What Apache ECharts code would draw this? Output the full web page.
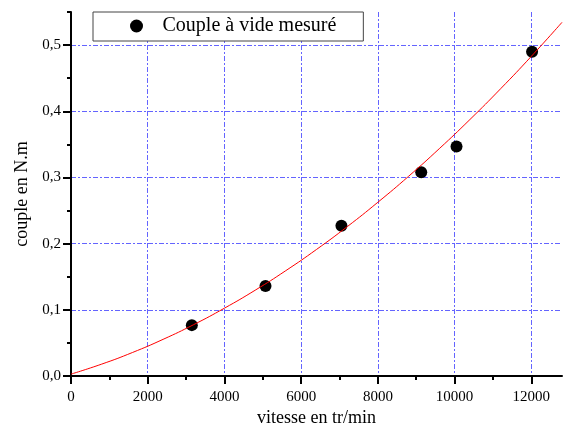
<!DOCTYPE html>
<html>
<head>
<meta charset="utf-8">
<script src="https://cdn.jsdelivr.net/npm/echarts@6/dist/echarts.min.js"></script>
<style>html,body{margin:0;padding:0;background:#fff}#c{width:563px;height:432px}</style>
</head>
<body>
<div id="c"></div>
<script>
// Measured points
const speedMeasured = [3150, 5070, 7050, 9130, 10050, 12020];
const torqueMeasured = [0.077, 0.136, 0.227, 0.308, 0.347, 0.490];
// Fitted curve
const fitSpeed = [0, 800, 1600, 2400, 3200, 4000, 4800, 5600, 6400, 7200, 8000, 8800, 9600, 10400, 11200, 12000, 12800];
const fitTorque = [0.003, 0.0181, 0.0356, 0.0555, 0.0778, 0.1026, 0.1297, 0.1593, 0.1913, 0.2257, 0.2626, 0.3018, 0.3435, 0.3876, 0.4341, 0.483, 0.5344];
// Ticks
const xMajorTicks = [0, 2000, 4000, 6000, 8000, 10000, 12000];
const xMinorTicks = [1000, 3000, 5000, 7000, 9000, 11000];
const yMajorTicks = [0, 0.1, 0.2, 0.3, 0.4, 0.5];
const yMinorTicks = [0.05, 0.15, 0.25, 0.35, 0.45, 0.55];
const legendName = 'Couple à vide mesuré';
const xName = 'vitesse en tr/min';
const yName = 'couple en N.m';

const FONT = "'Liberation Serif', 'Times New Roman', serif";
const chart = echarts.init(document.getElementById('c'), null, {renderer: 'canvas'});

function tickAxis(pos, vals, len, max) {
  return {
    type: 'value', min: 0, max: max, position: pos,
    axisLine: {show: false, onZero: false},
    axisLabel: {show: false},
    splitLine: {show: false},
    axisTick: {show: true, length: len, inside: false, customValues: vals,
      lineStyle: {color: '#000', width: 2}}
  };
}

const gridLine = {show: true, showMinLine: false, showMaxLine: false,
  lineStyle: {color: '#6464ff', width: 1, type: [5, 2, 2, 2]}};

chart.setOption({
  animation: false,
  backgroundColor: '#fff',
  grid: {left: 71, right: 1, top: 12, bottom: 54, containLabel: false},
  legend: {
    data: [legendName],
    left: 93, top: 12,
    orient: 'horizontal',
    icon: 'circle',
    itemWidth: 42, itemHeight: 13,
    padding: [4, 27, 5, 37],
    backgroundColor: '#fff',
    borderColor: '#444', borderWidth: 1, borderRadius: 0,
    textStyle: {fontFamily: FONT, fontSize: 20, color: '#000'}
  },
  xAxis: [
    {
      type: 'value', min: 0, max: 12800, interval: 2000, position: 'bottom',
      name: xName, nameLocation: 'middle', nameGap: 30,
      nameTextStyle: {fontFamily: FONT, fontSize: 18, color: '#000'},
      axisLine: {show: true, onZero: false, lineStyle: {color: '#000', width: 2}},
      axisTick: {show: false},
      axisLabel: {show: true, margin: 13, showMaxLabel: false, fontFamily: FONT, fontSize: 15, color: '#000',
        formatter: v => (v === 12800 ? '' : String(v))},
      splitLine: gridLine
    },
    tickAxis('bottom', xMajorTicks, 8, 12800),
    tickAxis('bottom', xMinorTicks, 4, 12800)
  ],
  yAxis: [
    {
      type: 'value', min: 0, max: 0.55, interval: 0.1, position: 'left',
      name: yName, nameLocation: 'middle', nameGap: 40, nameRotate: 90,
      nameTextStyle: {fontFamily: FONT, fontSize: 18, color: '#000'},
      axisLine: {show: true, onZero: false, lineStyle: {color: '#000', width: 2}},
      axisTick: {show: false},
      axisLabel: {show: true, margin: 10, showMaxLabel: false, fontFamily: FONT, fontSize: 15, color: '#000',
        formatter: v => (Math.abs(v - 0.55) < 1e-9 ? '' : v.toFixed(1).replace('.', ','))},
      splitLine: gridLine
    },
    tickAxis('left', yMajorTicks, 8, 0.55),
    tickAxis('left', yMinorTicks, 4, 0.55)
  ],
  series: [
    {
      name: legendName,
      type: 'scatter',
      xAxisIndex: 0, yAxisIndex: 0,
      symbol: 'circle', symbolSize: 12,
      itemStyle: {color: '#000', opacity: 1},
      data: speedMeasured.map((s, i) => [s, torqueMeasured[i]]),
      z: 2
    },
    {
      name: 'fit',
      type: 'line',
      xAxisIndex: 0, yAxisIndex: 0,
      showSymbol: false, symbol: 'none',
      smooth: true,
      lineStyle: {color: '#ff0000', width: 1},
      data: fitSpeed.map((s, i) => [s, fitTorque[i]]),
      z: 3
    }
  ]
});
</script>
</body>
</html>
